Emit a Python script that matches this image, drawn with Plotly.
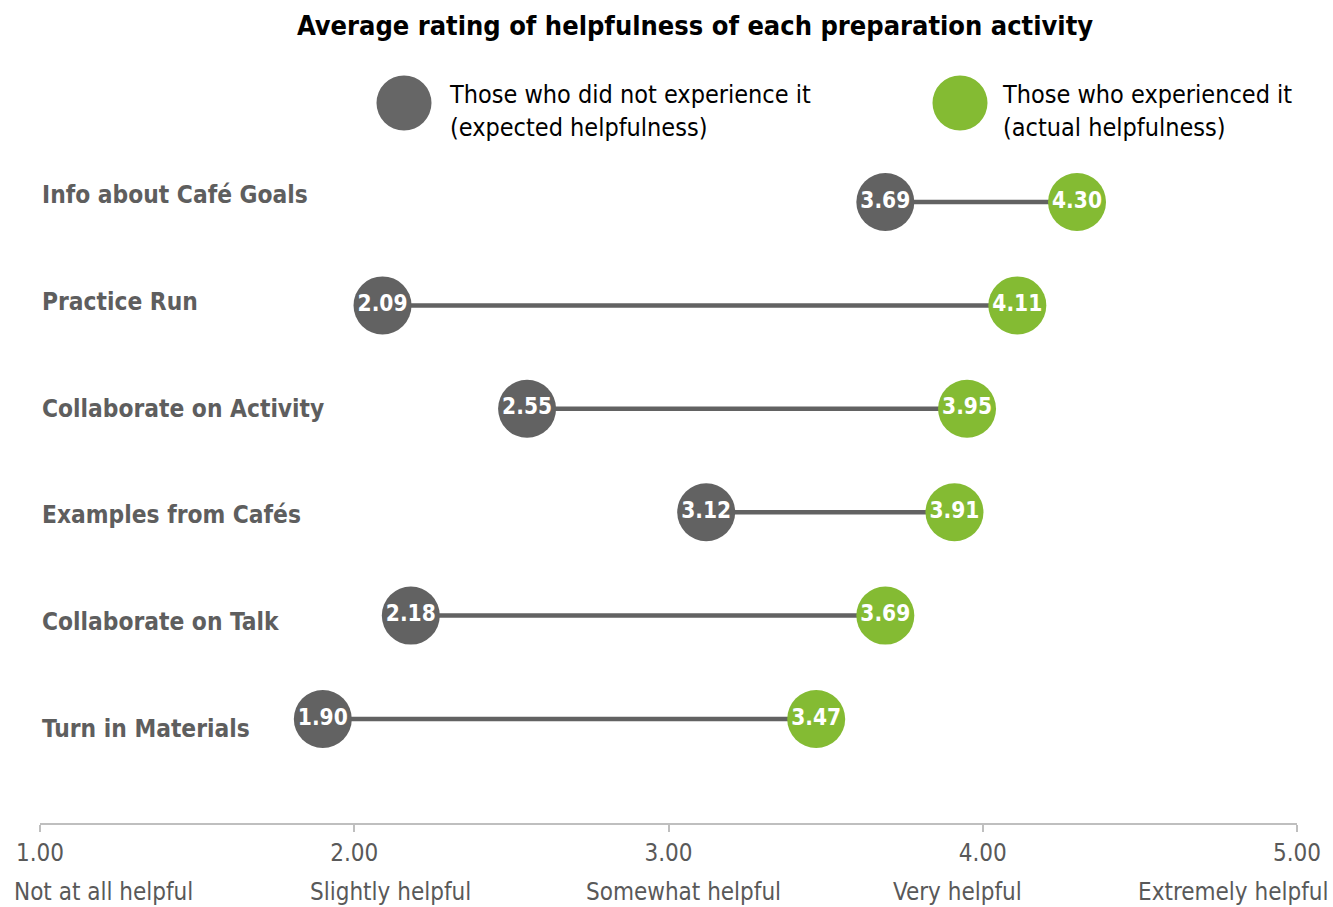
import plotly.graph_objects as go

# Survey results: average helpfulness rating (1-5 scale)
activities = [
    "Info about Café Goals",
    "Practice Run",
    "Collaborate on Activity",
    "Examples from Cafés",
    "Collaborate on Talk",
    "Turn in Materials",
]
expected = [3.69, 2.09, 2.55, 3.12, 2.18, 1.90]   # did not experience it
actual = [4.30, 4.11, 3.95, 3.91, 3.69, 3.47]     # experienced it

tick_values = [1, 2, 3, 4, 5]
tick_text = ["1.00", "2.00", "3.00", "4.00", "5.00"]
scale_labels = ["Not at all helpful", "Slightly helpful", "Somewhat helpful",
                "Very helpful", "Extremely helpful"]

legend_labels = ["Those who did not experience it<br>(expected helpfulness)",
                 "Those who experienced it<br>(actual helpfulness)"]

GRAY = "#626262"
GREEN = "#84BB33"
FONT = "DejaVu Sans Condensed"

rows = list(range(len(activities)))

fig = go.Figure()

# connecting segments
seg_x, seg_y = [], []
for r, a, b in zip(rows, expected, actual):
    seg_x += [a, b, None]
    seg_y += [r, r, None]
fig.add_trace(go.Scatter(x=seg_x, y=seg_y, mode="lines",
                         line=dict(color=GRAY, width=4.5),
                         hoverinfo="skip", showlegend=False))

for vals, color in ((expected, GRAY), (actual, GREEN)):
    fig.add_trace(go.Scatter(
        x=vals, y=rows, mode="markers+text",
        marker=dict(size=58, color=color, line=dict(width=0)),
        text=[f"{v:.2f}" for v in vals],
        textposition="middle center",
        textfont=dict(family=FONT, size=22.5, color="white", weight="bold"),
        showlegend=False,
    ))

# invisible trace so the label axis exists
fig.add_trace(go.Scatter(x=[None], y=[None], yaxis="y2", showlegend=False))

annotations = []
# activity names
for r, name in zip(rows, activities):
    annotations.append(dict(
        x=0.0, xref="paper", y=r, yref="y2", text=name, showarrow=False,
        xanchor="left", yanchor="middle",
        font=dict(family=FONT, size=24.3, color="#5E5E5E", weight="bold")))

# scale descriptions under the tick numbers
scale_centers = [103, 390, 683, 958, 1233]
for cx, lab in zip(scale_centers, scale_labels):
    annotations.append(dict(
        x=(cx - 40) / 1257, xref="paper", y=(823 - 892) / 673, yref="paper",
        text=lab, showarrow=False, xanchor="center", yanchor="middle",
        font=dict(family=FONT, size=24, color="#595959")))

# legend entries
legend_pos = [(404, 447), (960, 1000)]
shapes = []
for (cx, tx), lab, color in zip(legend_pos, legend_labels, ("#666666", GREEN)):
    shapes.append(dict(
        type="circle", xref="paper", yref="paper",
        xsizemode="pixel", ysizemode="pixel",
        xanchor=(cx - 40) / 1257, yanchor=(823 - 103) / 673,
        x0=-27.5, x1=27.5, y0=-27.5, y1=27.5,
        fillcolor=color, line=dict(width=0)))
    annotations.append(dict(
        x=(tx - 40) / 1257, xref="paper", y=(823 - 111) / 673, yref="paper",
        text=lab, showarrow=False, xanchor="left", yanchor="middle", align="left",
        font=dict(family=FONT, size=25, color="black")))

fig.update_layout(
    width=1333, height=907,
    margin=dict(l=40, r=36, t=150, b=84),
    paper_bgcolor="white", plot_bgcolor="white",
    title=dict(text="<b>Average rating of helpfulness of each preparation activity</b>",
               x=695 / 1333, xanchor="center", y=1 - 26 / 907, yanchor="middle",
               font=dict(family=FONT, size=27, color="black")),
    xaxis=dict(range=[1, 5], tickvals=tick_values, ticktext=tick_text,
               showgrid=False, zeroline=False, showline=True,
               linecolor="#BFBFBF", linewidth=2,
               ticks="outside", ticklen=7, tickcolor="#BFBFBF", tickwidth=1.5,
               tickfont=dict(family=FONT, size=24, color="#595959")),
    yaxis=dict(range=[6.006, -0.503], visible=False, showgrid=False, zeroline=False),
    yaxis2=dict(range=[5.891, -0.422], overlaying="y", visible=False,
                showgrid=False, zeroline=False),
    annotations=annotations,
    shapes=shapes,
    showlegend=False,
)

fig.write_html("out.html")
